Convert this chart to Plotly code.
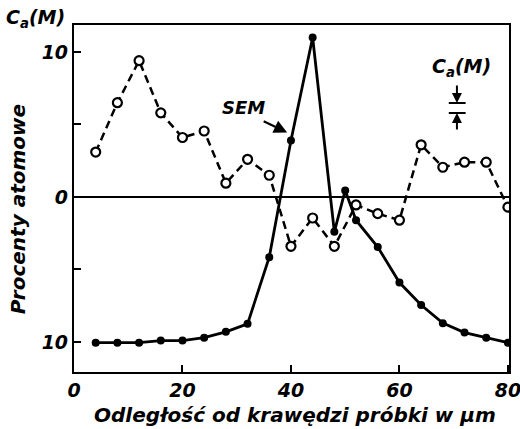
import plotly.graph_objects as go

# Data
x_ca = [4, 8, 12, 16, 20, 24, 28, 32, 36, 40, 44, 48, 52, 56, 60, 64, 68, 72, 76, 80]
y_ca = [3.1, 6.5, 9.4, 5.8, 4.1, 4.55, 0.95, 2.6, 1.5, -3.4, -1.45, -3.4, -0.55, -1.15, -1.6, 3.6, 2.05, 2.4, 2.4, -0.7]

x_sem = [4, 8, 12, 16, 20, 24, 28, 32, 36, 40, 44, 48, 50, 52, 56, 60, 64, 68, 72, 76, 80]
y_sem = [-10.05, -10.05, -10.05, -9.9, -9.9, -9.7, -9.3, -8.75, -4.15, 3.9, 11.0, -2.4, 0.45, -1.6, -3.45, -5.9, -7.45, -8.7, -9.35, -9.7, -10.05]

x_ticks = [0, 20, 40, 60, 80]
x_ticktext = ["0", "20", "40", "60", "80"]
y_ticks = [-10, -5, 0, 5, 10]
y_ticktext = ["10", "", "0", "", "10"]

FONT = "DejaVu Sans"

fig = go.Figure()
fig.add_trace(go.Scatter(
    x=x_ca, y=y_ca, mode="lines+markers",
    line=dict(color="black", width=2.5, dash="8px,5px"),
    marker=dict(symbol="circle", size=9, color="white", line=dict(color="black", width=2.2)),
    showlegend=False))
fig.add_trace(go.Scatter(
    x=x_sem, y=y_sem, mode="lines+markers",
    line=dict(color="black", width=2.8),
    marker=dict(symbol="circle", size=8, color="black"),
    showlegend=False))

fig.update_layout(
    width=520, height=429,
    margin=dict(l=74, r=11, t=25, b=57),
    paper_bgcolor="white", plot_bgcolor="white",
    font=dict(family=FONT, color="black"),
    xaxis=dict(range=[0, 80.2], tickvals=x_ticks, ticktext=x_ticktext,
               ticks="inside", ticklen=7, tickwidth=2, tickcolor="black",
               showline=True, linecolor="black", linewidth=2.2, mirror=True,
               showgrid=False, zeroline=False, automargin=False,
               ticklabeloverflow="allow",
               tickfont=dict(family=FONT, size=19, style="italic", weight="bold")),
    yaxis=dict(range=[-12.07, 11.86], tickvals=y_ticks, ticktext=y_ticktext,
               ticks="inside", ticklen=7, tickwidth=2, tickcolor="black",
               showline=True, linecolor="black", linewidth=2.2, mirror=True,
               showgrid=False, zeroline=True, zerolinecolor="black", zerolinewidth=2,
               automargin=False,
               tickfont=dict(family=FONT, size=19, style="italic", weight="bold")),
)

annotations = [
    dict(text="Odległość od krawędzi próbki w μm", xref="paper", yref="paper",
         x=0.508, y=-0.124, xanchor="center", yanchor="middle", showarrow=False,
         font=dict(family=FONT, size=20, style="italic", weight="bold")),
    dict(text="Procenty atomowe", xref="paper", yref="paper",
         x=-0.128, y=0.47, xanchor="center", yanchor="middle", textangle=-90,
         showarrow=False, font=dict(family=FONT, size=20, style="italic", weight="bold")),
    dict(text="C<sub>a</sub>(M)", xref="paper", yref="paper",
         x=-0.015, y=1.02, xanchor="right", yanchor="middle", showarrow=False,
         font=dict(family=FONT, size=19, style="italic", weight="bold")),
    dict(text="C<sub>a</sub>(M)", xref="x", yref="y",
         x=71.4, y=8.9, xanchor="center", yanchor="middle", showarrow=False,
         font=dict(family=FONT, size=19, style="italic", weight="bold")),
    dict(text="SEM", xref="x", yref="y",
         x=31.3, y=6.2, xanchor="center", yanchor="middle", showarrow=False,
         font=dict(family=FONT, size=18, style="italic", weight="bold")),
    # SEM pointer arrow
    dict(text="", xref="x", yref="y", x=39.3, y=4.45, ax=-25, ay=-12,
         showarrow=True, arrowhead=2, arrowsize=1.2, arrowwidth=2.2, arrowcolor="black"),
    # error indicator arrows
    dict(text="", xref="x", yref="y", x=70.6, y=6.48, ax=0, ay=-19,
         showarrow=True, arrowhead=2, arrowsize=1, arrowwidth=2, arrowcolor="black"),
    dict(text="", xref="x", yref="y", x=70.6, y=5.79, ax=0, ay=18,
         showarrow=True, arrowhead=2, arrowsize=1, arrowwidth=2, arrowcolor="black"),
]
fig.update_layout(annotations=annotations)

fig.add_shape(type="line", xref="x", yref="y", x0=69.1, x1=72.2, y0=6.48, y1=6.48,
              line=dict(color="black", width=2))
fig.add_shape(type="line", xref="x", yref="y", x0=69.1, x1=72.2, y0=5.79, y1=5.79,
              line=dict(color="black", width=2))

fig.write_html("out.html")
